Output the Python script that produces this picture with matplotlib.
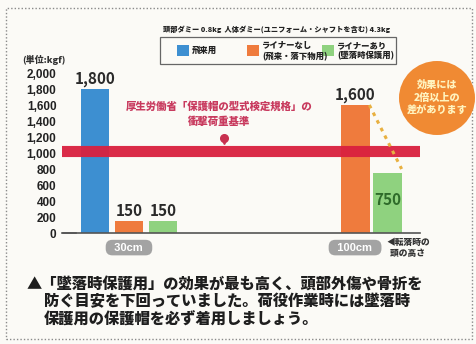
import matplotlib
matplotlib.use('Agg')
import matplotlib.pyplot as plt
from matplotlib.patches import Rectangle, Ellipse

plt.rcParams['font.family'] = ['Noto Sans CJK JP', 'DejaVu Sans']
plt.rcParams['font.weight'] = 'bold'

#------------------------------------------------------------------------------
# datos

categories = ['30cm', '100cm']
series_names = ['飛来用', 'ライナーなし\n(飛来・落下物用)', 'ライナーあり\n(墜落時保護用)']
series_colors = ['#3d8fd1', '#ef7b3d', '#8fd27f']

# valores por serie, None = no hay barra
values_blue = [1800, None]
values_orange = [150, 1600]
values_green = [150, 750]

standard_value = 1030          # linea roja (criterio de carga de impacto)

yticks = [0, 200, 400, 600, 800, 1000, 1200, 1400, 1600, 1800, 2000]
ytick_labels = ['0', '200', '400', '600', '800', '1,000', '1,200', '1,400',
                '1,600', '1,800', '2,000']

title_text = '頭部ダミー 0.8kg  人体ダミー(ユニフォーム・シャフトを含む) 4.3kg'
unit_text = '(単位:kgf)'
standard_text = '厚生労働省「保護帽の型式検定規格」の\n衝撃荷重基準'
bubble_text = '効果には\n2倍以上の\n差があります'
height_text = '◀転落時の\n  頭の高さ'
caption_lines = ['▲「墜落時保護用」の効果が最も高く、頭部外傷や骨折を',
                 '防ぐ目安を下回っていました。荷役作業時には墜落時',
                 '保護用の保護帽を必ず着用しましょう。']

#------------------------------------------------------------------------------

W, H = 477, 344

def fx(x):
    return x / W

def fy(y):
    return 1 - y / H

fig = plt.figure(figsize=(W / 100, H / 100), dpi=100)
fig.patch.set_facecolor('#fbfaf6')

# borde punteado
fig.patches.append(Rectangle((fx(6), fy(339)), fx(466), 331 / H,
                             transform=fig.transFigure, fill=False,
                             edgecolor='#8a8a8a', linestyle=(0, (1, 1.5)),
                             linewidth=1.0))

ax_left, ax_right, ax_bottom, ax_top = 62, 420, 233, 73
ax = fig.add_axes([fx(ax_left), fy(ax_bottom), (ax_right - ax_left) / W,
                   (ax_bottom - ax_top) / H])
ax.set_facecolor('none')

# posiciones de las barras
group_pos = [[0.0, 1.0, 2.0], [None, 7.65, 8.6]]
all_values = [values_blue, values_orange, values_green]
bar_w = 0.85

for s, vals in enumerate(all_values):
    for g, v in enumerate(vals):
        if v is None:
            continue
        ax.bar(group_pos[g][s], v, width=bar_w, color=series_colors[s],
               linewidth=0, zorder=2)

# etiquetas de valores
label_specs = [(0, 0, 'above'), (1, 0, 'above'), (2, 0, 'above'),
               (1, 1, 'above'), (2, 1, 'inside')]
for s, g, where in label_specs:
    v = all_values[s][g]
    txt = '{:,}'.format(v)
    if where == 'above':
        ax.text(group_pos[g][s], v + 20, txt, ha='center', va='bottom',
                fontsize=11, color='#2a2a2a', fontweight='bold', zorder=4)
    else:
        ax.text(group_pos[g][s], v * 0.55, txt, ha='center', va='center',
                fontsize=11, color='#2e6b2a', fontweight='bold', zorder=4)

# linea roja del criterio
ax.axhline(standard_value, color='#d9203f', linewidth=8, alpha=0.95, zorder=3)
ax.text(3.65, 1490, standard_text, ha='center', va='center', fontsize=7.5,
        color='#c83a5e', fontweight='heavy', linespacing=1.5, zorder=4)
ax.plot([3.8], [1150], marker='v', color='#c8304f', markersize=5, zorder=4)
ax.plot([3.8], [1190], marker='o', color='#c8304f', markersize=5.5, zorder=4)

ax.set_xlim(-0.97, 9.56)
ax.set_ylim(0, 2000)
ax.set_yticks(yticks)
ax.set_yticklabels(ytick_labels, fontsize=8.5, fontfamily='Liberation Sans',
                   fontweight='bold', color='#222222')
ax.tick_params(axis='y', length=0, pad=4)
ax.set_xticks([])
for sp in ['left', 'top', 'right']:
    ax.spines[sp].set_visible(False)
ax.spines['bottom'].set_color('#555555')
ax.spines['bottom'].set_linewidth(1.2)
ax.plot([-0.95, -0.55], [0, 0], color='#555555', linewidth=1.2,
        clip_on=False)

# etiquetas de categorias (pastillas grises)
for g, cat in enumerate(categories):
    xc = group_pos[g][1]
    ax.annotate('  ' + cat + '  ', xy=(xc, 0), xycoords='data',
                xytext=(0, -10.5), textcoords='offset points', ha='center',
                va='center', fontsize=8, color='white',
                fontfamily='Liberation Sans', fontweight='bold',
                bbox=dict(boxstyle='round,pad=0.25,rounding_size=0.6',
                          facecolor='#a3a3a3', edgecolor='none'),
                annotation_clip=False)

fig.text(fx(386), fy(248), height_text, ha='left', va='center', fontsize=6.3,
         color='#333333', linespacing=1.25, fontweight='heavy')

# linea punteada desde la barra 1600 hacia 750
ax.plot([group_pos[1][1] + 0.42, group_pos[1][2] + 0.42],
        [1600, 800], color='#e8b040', linestyle=(0, (1.2, 1.6)),
        linewidth=2.2, zorder=3, clip_on=False)

# burbuja naranja
fig.patches.append(Ellipse((fx(437), fy(98)), 76 / W, 74 / H,
                           transform=fig.transFigure, facecolor='#f08a33',
                           edgecolor='none', zorder=5))
fig.text(fx(437), fy(98), bubble_text, ha='center', va='center',
         fontsize=7.3, color='#fff4c0', linespacing=1.35, zorder=6,
         fontweight='heavy')

# unidad
fig.text(fx(22), fy(60), unit_text, ha='left', va='center', fontsize=6.5,
         color='#333333', fontweight='heavy')

# titulo de leyenda
fig.text(fx(163), fy(29), title_text, ha='left', va='center', fontsize=5.2,
         color='#222222', fontweight='heavy')

# leyenda manual
fig.patches.append(Rectangle((fx(160), fy(64)), 236 / W, 27 / H,
                             transform=fig.transFigure, facecolor='#fbfaf6',
                             edgecolor='#666666', linewidth=0.9))
legend_x = [177, 247, 322]
for s, name in enumerate(series_names):
    fig.patches.append(Rectangle((fx(legend_x[s]), fy(56)), 12 / W, 11 / H,
                                 transform=fig.transFigure,
                                 facecolor=series_colors[s],
                                 edgecolor='none'))
    fig.text(fx(legend_x[s] + 15), fy(50.5), name, ha='left', va='center',
             fontsize=6, color='#222222', linespacing=1.15,
             fontweight='heavy')

# texto inferior (una linea por llamada)
caption_x = [27, 44, 44]
caption_y = [285, 302, 319]
for i, line in enumerate(caption_lines):
    fig.text(fx(caption_x[i]), fy(caption_y[i]), line, ha='left',
             va='center', fontsize=11, color='#1e1e1e', fontweight='black')

fig.savefig('out.png', dpi=100, facecolor=fig.get_facecolor())
